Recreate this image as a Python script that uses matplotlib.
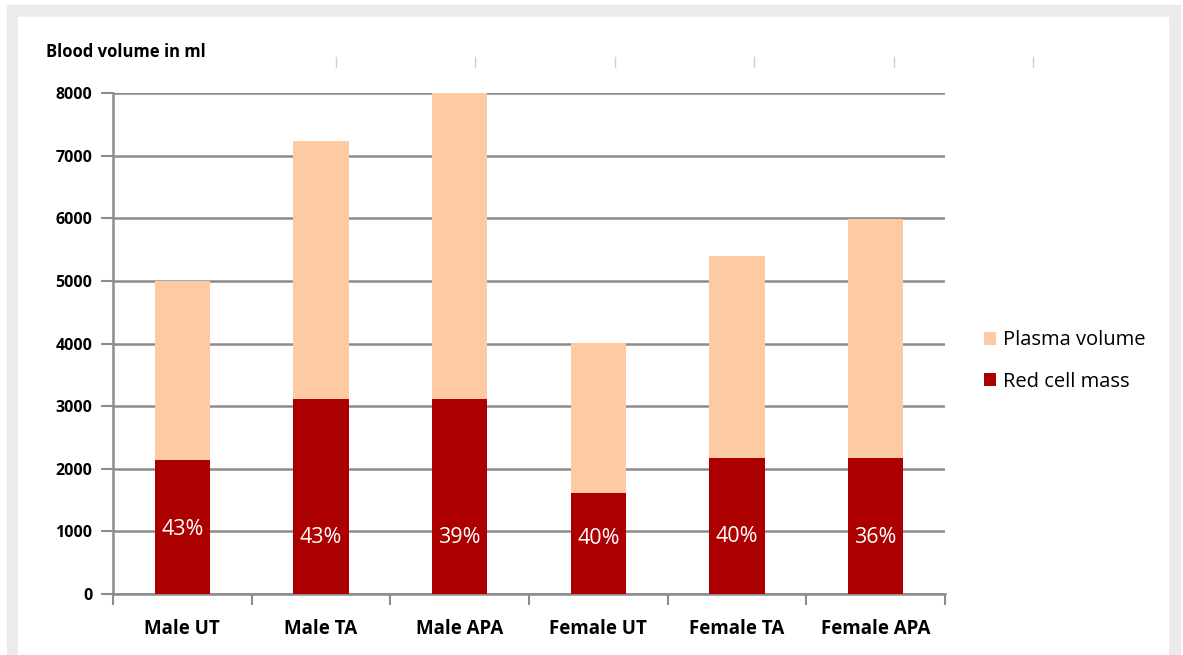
import numpy as np
import matplotlib.pyplot as plt
from matplotlib.patches import Rectangle
from matplotlib.lines import Line2D

categories = ["Male UT", "Male TA", "Male APA", "Female UT", "Female TA", "Female APA"]
red_cell = [2140, 3110, 3110, 1620, 2170, 2170]
total = [5000, 7230, 8000, 4010, 5400, 5990]
plasma = [t - r for t, r in zip(total, red_cell)]
pct_labels = ["43%", "43%", "39%", "40%", "40%", "36%"]
pct_y = [1030, 900, 900, 880, 920, 900]
yticks = [0, 1000, 2000, 3000, 4000, 5000, 6000, 7000, 8000]

RED = "#ac0000"
PLASMA = "#fdcaa4"
GRID = "#8c8c8c"

plt.rcParams['font.family'] = ['Open Sans', 'DejaVu Sans']

fig = plt.figure(figsize=(11.83, 6.55), dpi=100)
W, H = 1183, 655

# grey frame with white panel
fig.add_artist(Rectangle((7 / W, 0), (1180 - 7) / W, (655 - 5) / H,
                         transform=fig.transFigure, color="#ebebeb", zorder=0))
fig.add_artist(Rectangle((18 / W, 0), (1168 - 18) / W, (655 - 17) / H,
                         transform=fig.transFigure, color="white", zorder=0))

ax = fig.add_axes([113 / W, (655 - 594) / H, 832 / W, 501 / H])
ax.set_facecolor("none")

x = np.arange(len(categories))
ax.bar(x, red_cell, width=0.40, color=RED, label="Red cell mass", zorder=3)
ax.bar(x, plasma, width=0.40, bottom=red_cell, color=PLASMA, label="Plasma volume", zorder=3)

for xi, yi, s in zip(x, pct_y, pct_labels):
    ax.text(xi, yi, s, color="white", ha="center", va="center", fontsize=15.5, zorder=4)

ax.set_xlim(-0.5, len(categories) - 0.5)
ax.set_ylim(0, 8000)
ax.set_yticks(yticks)
ax.set_yticklabels([str(v) for v in yticks], fontsize=11.5, fontweight="bold")
ax.yaxis.grid(True, color=GRID, linewidth=1.8, zorder=1)
ax.set_axisbelow(True)

ax.set_xticks(x)
ax.set_xticklabels(categories, fontsize=13.5, fontweight="bold")
ax.tick_params(axis="x", length=0, pad=18)
ax.set_xticks(np.arange(-0.5, len(categories)), minor=True)
ax.tick_params(axis="x", which="minor", length=8, color=GRID, width=1.5)
ax.tick_params(axis="y", length=9, color=GRID, width=1.5, pad=6)

for side in ["top", "right"]:
    ax.spines[side].set_visible(False)
for side in ["left", "bottom"]:
    ax.spines[side].set_color(GRID)
    ax.spines[side].set_linewidth(1.8)

fig.text(46 / W, 1 - 52 / H, "Blood volume in ml", fontsize=12, fontweight="bold",
         ha="left", va="center")

# faint ticks at the top of the panel
for xp in [336, 475, 615, 754, 894, 1033]:
    fig.add_artist(Line2D([xp / W, xp / W], [1 - 57 / H, 1 - 67 / H],
                          transform=fig.transFigure, color="#d0d0d0", linewidth=1))

handles, labels = ax.get_legend_handles_labels()
leg = fig.legend(handles[::-1], labels[::-1], loc="center left",
                 bbox_to_anchor=(966 / W, 1 - 361 / H), frameon=False,
                 fontsize=14.5, handlelength=0.6, handleheight=0.6,
                 handletextpad=0.35, labelspacing=1.05)

fig.savefig("out.png", dpi=100)
